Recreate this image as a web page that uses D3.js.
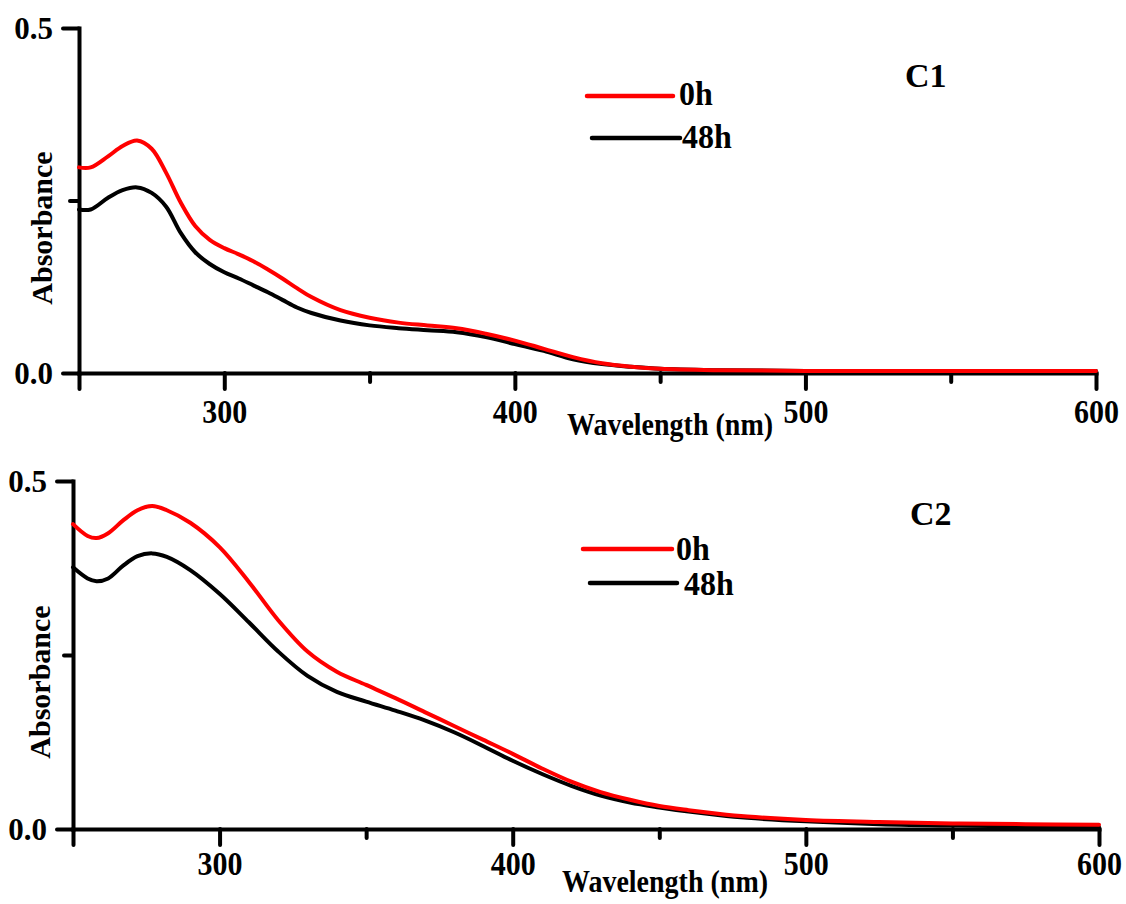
<!DOCTYPE html>
<html><head><meta charset="utf-8">
<script src="https://cdn.jsdelivr.net/npm/d3@7"></script>
<style>
body{margin:0;background:#fff}
text{font-family:"Liberation Serif","Times New Roman",serif;font-weight:bold;fill:#000}
</style>
</head><body>
<svg id="chart" width="1126" height="904"></svg>
<script>
// ---------- data ----------
const wavelengthC1 = [250,254,260,265,270,275,280,285,290,295,300,305,310,315,320,325,330,340,350,360,370,380,390,400,410,420,430,440,450,470,500,550,600];
const c1_0h  = [0.298,0.298,0.314,0.329,0.337,0.325,0.290,0.247,0.213,0.193,0.181,0.172,0.162,0.150,0.137,0.123,0.110,0.091,0.080,0.073,0.069,0.065,0.057,0.047,0.035,0.023,0.014,0.009,0.006,0.004,0.003,0.003,0.003];
const c1_48h = [0.237,0.237,0.254,0.265,0.269,0.261,0.241,0.203,0.175,0.158,0.146,0.137,0.127,0.117,0.106,0.095,0.087,0.076,0.069,0.065,0.062,0.059,0.052,0.042,0.032,0.020,0.013,0.009,0.006,0.004,0.003,0.003,0.003];

const wavelengthC2 = [250,255,258,262,267,272,277,282,290,300,310,320,330,340,350,360,370,380,390,400,410,420,430,440,450,460,470,480,500,525,550,575,600];
const c2_0h  = [0.438,0.421,0.418,0.425,0.443,0.458,0.464,0.458,0.440,0.405,0.355,0.300,0.255,0.226,0.207,0.188,0.168,0.148,0.128,0.108,0.087,0.068,0.053,0.042,0.033,0.027,0.022,0.018,0.013,0.010,0.008,0.007,0.006];
const c2_48h = [0.376,0.360,0.356,0.360,0.378,0.392,0.396,0.391,0.372,0.338,0.297,0.255,0.220,0.197,0.183,0.170,0.156,0.139,0.119,0.098,0.079,0.062,0.048,0.038,0.031,0.025,0.020,0.016,0.011,0.007,0.005,0.004,0.003];

const seriesNames = ["0h","48h"];
const seriesColors = ["#ff0000","#000000"];
const panelTitles = ["C1","C2"];
const xMajorTicks = [250,300,400,500,600];
const xMinorTicks = [350,450,550];
const yMajorTicks = [0,0.5];
const yMinorTicks = [0.25];
const xTitle = "Wavelength (nm)";
const yTitle = "Absorbance";

// ---------- layout ----------
const panels = [
  {title: panelTitles[0], wl: wavelengthC1, series: [c1_0h, c1_48h],
   left: 79, right: 1096, bottom: 373, top: 28, xLabelDy: 50, xTitleX: 670, xTitleY: 435,
   yTitleX: 52, yTitleY: 228, titleX: 905, titleY: 87,
   leg: [{x1:587,x2:673,y:96,tx:679,ty:105},{x1:592,x2:680,y:138,tx:682,ty:148}]},
  {title: panelTitles[1], wl: wavelengthC2, series: [c2_0h, c2_48h],
   left: 73, right: 1099, bottom: 829, top: 481, xLabelDy: 46, xTitleX: 665, xTitleY: 892,
   yTitleX: 50, yTitleY: 682, titleX: 910, titleY: 525,
   leg: [{x1:583,x2:672,y:549,tx:676,ty:560},{x1:590,x2:677,y:583,tx:684,ty:595}]}
];

const svg = d3.select("#chart");

panels.forEach(p => {
  const x = d3.scaleLinear().domain([250,600]).range([p.left, p.right]);
  const y = d3.scaleLinear().domain([0,0.5]).range([p.bottom, p.top]);
  const g = svg.append("g");

  const xa = g.append("g").attr("transform", `translate(0,${p.bottom})`)
    .call(d3.axisBottom(x).tickValues(xMajorTicks).tickSize(16).tickSizeOuter(0)
      .tickFormat(d => d === 250 ? "" : d));
  const xm = g.append("g").attr("transform", `translate(0,${p.bottom})`)
    .call(d3.axisBottom(x).tickValues(xMinorTicks).tickSize(9).tickSizeOuter(0).tickFormat(""));
  xm.select(".domain").remove();
  xa.selectAll("text").attr("y", null).attr("dy", null)
    .attr("transform", `translate(0,${p.xLabelDy}) scale(1,1.1)`).style("font-size","30px");

  const ya = g.append("g").attr("transform", `translate(${p.left},0)`)
    .call(d3.axisLeft(y).tickValues(yMajorTicks).tickSize(16).tickPadding(10).tickSizeOuter(0)
      .tickFormat(d3.format(".1f")));
  const ym = g.append("g").attr("transform", `translate(${p.left},0)`)
    .call(d3.axisLeft(y).tickValues(yMinorTicks).tickSize(9).tickSizeOuter(0).tickFormat(""));
  ym.select(".domain").remove();
  ya.selectAll("text").attr("dy","0.34em").style("font-size","31px");

  g.selectAll(".domain").attr("stroke","#000").attr("stroke-width",4).attr("stroke-linecap","square");
  g.selectAll(".tick line").attr("stroke","#000").attr("stroke-width",4).attr("stroke-linecap","round");
  g.selectAll("g").attr("font-family",null).attr("font-size",null);

  g.append("text").attr("transform", `translate(${p.xTitleX},${p.xTitleY}) scale(1,1.12)`)
    .attr("text-anchor","middle").style("font-size","28px").text(xTitle);
  g.append("text").attr("transform", `translate(${p.yTitleX},${p.yTitleY}) rotate(-90)`)
    .attr("text-anchor","middle").style("font-size","30px").text(yTitle);
  g.append("text").attr("x", p.titleX).attr("y", p.titleY).style("font-size","34px").text(p.title);

  const line = d3.line().x((d,i) => x(p.wl[i])).y(d => y(d)).curve(d3.curveCatmullRom.alpha(0.5));
  [1,0].forEach(k => {
    g.append("path").datum(p.series[k]).attr("d", line)
      .attr("fill","none").attr("stroke", seriesColors[k]).attr("stroke-width",4)
      .attr("stroke-linejoin","round").attr("stroke-linecap","round");
  });

  p.leg.forEach((l,k) => {
    g.append("line").attr("x1", l.x1).attr("x2", l.x2).attr("y1", l.y).attr("y2", l.y)
      .attr("stroke", seriesColors[k]).attr("stroke-width",4.5).attr("stroke-linecap","round");
    g.append("text").attr("transform", `translate(${l.tx},${l.ty}) scale(1,1.05)`)
      .style("font-size","32px").text(seriesNames[k]);
  });
});
</script>
</body></html>
